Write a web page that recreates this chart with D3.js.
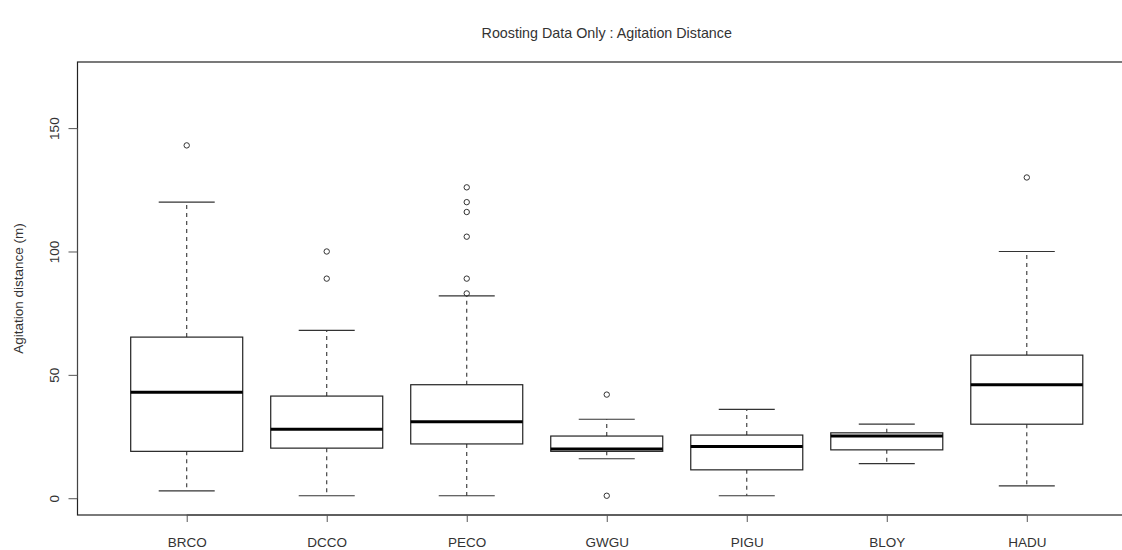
<!DOCTYPE html>
<html><head><meta charset="utf-8">
<script src="https://cdn.jsdelivr.net/npm/d3@7"></script>
<style>body{margin:0;background:#fff;} svg{display:block;} text{font-family:"Liberation Sans",Arial,sans-serif;fill:#333;}</style>
</head><body>
<svg id="chart" width="1122" height="550"></svg>
<script>
const categories = ["BRCO","DCCO","PECO","GWGU","PIGU","BLOY","HADU"];
const lowerWhisker = [3, 1, 1, 16, 1, 14, 5];
const q1 = [19, 20.3, 22, 19, 11.5, 19.6, 30];
const median = [43, 28, 31, 20, 21, 25.2, 46];
const q3 = [65.3, 41.4, 46, 25.2, 25.6, 26.5, 58];
const upperWhisker = [120, 68, 82, 32, 36, 30, 100];
const outliers = [[143], [100, 89], [126, 120, 116, 106, 89, 83], [42, 1], [], [], [130]];
const yTicks = [0, 50, 100, 150];
const yLimits = [0, 170];
const title = "Roosting Data Only : Agitation Distance";
const yLabel = "Agitation distance (m)";

const svg = d3.select("#chart");
const pad = (yLimits[1]-yLimits[0])*0.04;
const y = d3.scaleLinear().domain([yLimits[0]-pad, yLimits[1]+pad]).range([515, 62]);
const n = categories.length;
const x = d3.scaleLinear().domain([0.5 - 0.28, n + 0.5 + 0.28]).range([77.5, 1136]);
const step = x(2) - x(1);
const boxW = step * 0.8;
const capW = boxW * 0.5;

// plot frame
svg.append("rect").attr("x", x.range()[0]).attr("y", y.range()[1])
  .attr("width", x.range()[1]-x.range()[0]).attr("height", y.range()[0]-y.range()[1])
  .attr("fill","none").attr("stroke","#222").attr("stroke-width",1.2);

const data = categories.map((c,i)=>({c, i:i+1, lw:lowerWhisker[i], q1:q1[i], med:median[i], q3:q3[i], uw:upperWhisker[i], out:outliers[i]}));
const g = svg.append("g");
data.forEach(d=>{
  const cx = x(d.i);
  g.append("line").attr("x1",cx).attr("x2",cx).attr("y1",y(d.q3)).attr("y2",y(d.uw))
    .attr("stroke","#333").attr("stroke-width",1.1).attr("stroke-dasharray","4,4");
  g.append("line").attr("x1",cx).attr("x2",cx).attr("y1",y(d.q1)).attr("y2",y(d.lw))
    .attr("stroke","#333").attr("stroke-width",1.1).attr("stroke-dasharray","4,4");
  [d.uw, d.lw].forEach(v=>{
    g.append("line").attr("x1",cx-capW/2).attr("x2",cx+capW/2).attr("y1",y(v)).attr("y2",y(v))
      .attr("stroke","#333").attr("stroke-width",1.2);
  });
  g.append("rect").attr("x",cx-boxW/2).attr("y",y(d.q3)).attr("width",boxW).attr("height",y(d.q1)-y(d.q3))
    .attr("fill","#fff").attr("stroke","#222").attr("stroke-width",1.2);
  g.append("line").attr("x1",cx-boxW/2).attr("x2",cx+boxW/2).attr("y1",y(d.med)).attr("y2",y(d.med))
    .attr("stroke","#000").attr("stroke-width",3);
  d.out.forEach(v=>{
    g.append("circle").attr("cx",cx).attr("cy",y(v)).attr("r",2.7)
      .attr("fill","none").attr("stroke","#333").attr("stroke-width",1);
  });
});

// y axis
const yAxis = svg.append("g").attr("transform",`translate(${x.range()[0]},0)`)
  .call(d3.axisLeft(y).tickValues(yTicks).tickSize(9).tickFormat(d3.format("d")));
yAxis.select(".domain").attr("stroke","#444").attr("d",`M0,${y(yTicks[0])}V${y(yTicks[yTicks.length-1])}`);
yAxis.selectAll(".tick line").attr("stroke","#555");
yAxis.selectAll(".tick text").attr("x",0).attr("dy",null)
  .attr("transform","translate(-19,0) rotate(-90)").attr("text-anchor","middle")
  .style("font-size","13.5px").style("font-family","Liberation Sans, Arial, sans-serif").attr("fill","#333");

// x axis
const xAxis = svg.append("g").attr("transform",`translate(0,${y.range()[0]})`)
  .call(d3.axisBottom(x).tickValues(data.map(d=>d.i)).tickSize(7).tickFormat(i=>categories[i-1]));
xAxis.select(".domain").attr("stroke","#444").attr("d",`M${x(1)},0H${x(n)}`);
xAxis.selectAll(".tick line").attr("stroke","#555");
xAxis.selectAll(".tick text").attr("y",22).attr("dy","0.71em")
  .style("font-size","13.5px").style("font-family","Liberation Sans, Arial, sans-serif").attr("fill","#333");

// title
svg.append("text").attr("x",(x.range()[0]+x.range()[1])/2).attr("y",38)
  .attr("text-anchor","middle").style("font-size","14.3px").text(title);
// y label
svg.append("text").attr("transform",`translate(23,${(y.range()[0]+y.range()[1])/2}) rotate(-90)`)
  .attr("text-anchor","middle").style("font-size","13.5px").text(yLabel);
</script>
</body></html>
